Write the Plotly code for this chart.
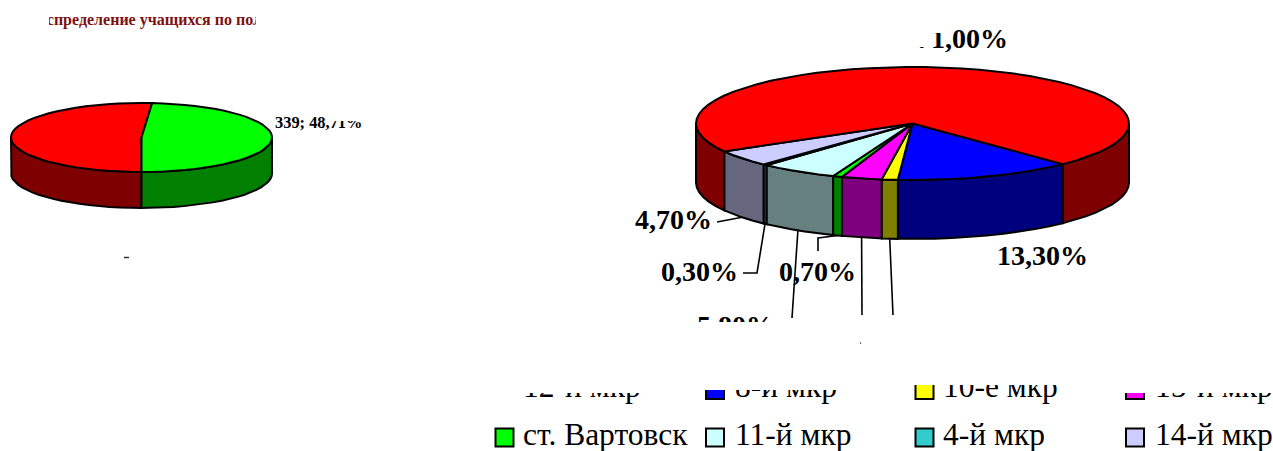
import math
import plotly.graph_objects as go

# ---- data ----
left_names = ["мальчики", "девочки"]
left_values = [357, 339]
left_colors = ["#FF0000", "#00FF00"]

right_names = ["8-й мкр", "10-е мкр", "15-й мкр", "ст. Вартовск", "11-й мкр", "4-й мкр", "14-й мкр", "12-й мкр"]
right_values = [13.3, 1.2, 3.0, 0.7, 5.8, 0.3, 4.7, 71.0]
right_colors = ["#0000FF", "#FFFF00", "#FF00FF", "#00FF00", "#CCFFFF", "#33CCCC", "#CCCCFF", "#FF0000"]

legend_names = ["12-й мкр", "8-й мкр", "10-е мкр", "15-й мкр",
                "ст. Вартовск", "11-й мкр", "4-й мкр", "14-й мкр"]
legend_colors = ["#FF0000", "#0000FF", "#FFFF00", "#FF00FF",
                 "#00FF00", "#CCFFFF", "#33CCCC", "#CCCCFF"]

title_text = "Распределение учащихся по полу"
left_label = "339; 48,71%"

W, H = 1273, 451
fig = go.Figure()


def half(c):
    r, g, b = int(c[1:3], 16), int(c[3:5], 16), int(c[5:7], 16)
    return f"rgb({r//2},{g//2},{b//2})"


def arc(cx, cy, rx, ry, a0, a1):
    n = max(2, int(abs(a1 - a0) / 5) + 2)
    ts = [math.radians(a0 + (a1 - a0) * i / (n - 1)) for i in range(n)]
    return [cx + rx * math.cos(t) for t in ts], [cy + ry * math.sin(t) for t in ts]


def poly(xs, ys, fill, width=2):
    fig.add_trace(go.Scatter(x=xs, y=ys, mode="lines", fill="toself", fillcolor=fill,
                             line=dict(color="black", width=width), hoverinfo="skip", showlegend=False))


def pie3d(values, colors, cx, cy, rx, ry, depth, start):
    total = sum(values)
    spans, a = [], start
    for v in values:
        b = a + v / total * 360
        spans.append((a, b))
        a = b
    # rim faces
    for (a0, b0), c in zip(spans, colors):
        for k in (-360, 0, 360):
            lo, hi = max(a0 + k, 0), min(b0 + k, 180)
            if hi > lo:
                xs, ys = arc(cx, cy, rx, ry, lo, hi)
                poly(xs + xs[::-1] + xs[:1], ys + [y + depth for y in ys[::-1]] + ys[:1], half(c))
    # top faces
    for (a0, b0), c in zip(spans, colors):
        xs, ys = arc(cx, cy, rx, ry, a0, b0)
        poly([cx] + xs + [cx], [cy] + ys + [cy], c)
    return spans


pie3d(left_values, left_colors, 141.5, 137.5, 130.5, 34.5, 36, 90)
R = dict(cx=912.5, cy=123.5, rx=216.5, ry=56.5, depth=59)
spans = pie3d(right_values, right_colors, R["cx"], R["cy"], R["rx"], R["ry"], R["depth"], 46)


def rim_mid(i):
    t = math.radians(sum(spans[i]) / 2)
    return R["cx"] + R["rx"] * math.cos(t), R["cy"] + R["ry"] * math.sin(t) + R["depth"]


# leader lines: slice index -> elbow / end points
leaders = {
    6: [(717, 222)],
    5: [(757, 273), (743, 273)],
    4: [(792, 318)],
    3: [(818, 238), (818, 251)],
    2: [(862, 315)],
    1: [(893, 315)],
}
for i, pts in leaders.items():
    s = rim_mid(i)
    fig.add_trace(go.Scatter(x=[s[0]] + [p[0] for p in pts], y=[s[1]] + [p[1] for p in pts], mode="lines",
                             line=dict(color="black", width=1.6), hoverinfo="skip", showlegend=False))


def text(x, y, s, size, color="black", bold=False, pos="middle right"):
    t = f"<b>{s}</b>" if bold else s
    fig.add_trace(go.Scatter(x=[x], y=[y], mode="text", text=[t], textposition=pos,
                             textfont=dict(family="Liberation Serif", size=size, color=color),
                             hoverinfo="skip", showlegend=False))


# percentage labels
def pct(v):
    return f"{v:.2f}".replace(".", ",") + "%"


text(917, 41, pct(right_values[7]), 28, bold=True)
text(997, 258, pct(right_values[0]), 28, bold=True)
text(635, 222, pct(right_values[6]), 28, bold=True)
text(661, 274, pct(right_values[5]), 28, bold=True)
text(779, 274, pct(right_values[3]), 28, bold=True)
text(697, 328, pct(right_values[4]), 28, bold=True)
text(275, 124, left_label, 16.4, bold=True)
text(29, 21, title_text, 16, color="#7F1010", bold=True)

# legend
swatch_x = [504.5, 715, 924.5, 1135]
text_x = [523, 735, 943, 1155]
row_y = [390, 437.5]
text_y = [389.5, 437.5]
for i, (n, c) in enumerate(zip(legend_names, legend_colors)):
    col, row = i % 4, i // 4
    fig.add_trace(go.Scatter(x=[swatch_x[col]], y=[row_y[row]], mode="markers",
                             marker=dict(symbol="square", size=18, color=c, line=dict(color="black", width=2)),
                             hoverinfo="skip", showlegend=False))
    text(text_x[col], text_y[row], n, 31.5)

# white patches that clip the picture's text
masks = [
    (0, 0, 49, 32), (256, 0, 620, 32),
    (900, 15, 935, 47), (935, 15, 950, 33), (950, 15, 1020, 29),
    (327, 100, 372, 121),
    (680, 322, 790, 350),
    (480, 370, 690, 393), (690, 370, 905, 390), (905, 370, 1110, 385), (1110, 370, W, 393),
    (480, 393, 520, 401),
]
mx, my = [], []
for x0, y0, x1, y1 in masks:
    mx += [x0, x1, x1, x0, x0, None]
    my += [y0, y0, y1, y1, y0, None]
fig.add_trace(go.Scatter(x=mx, y=my, mode="lines", fill="toself", fillcolor="white",
                         line=dict(width=0), hoverinfo="skip", showlegend=False))

# small leftover specks
fig.add_trace(go.Scatter(x=[124, 129, None, 860, 861], y=[257.5, 257.5, None, 343, 343], mode="lines",
                         line=dict(color="#333333", width=1.5), hoverinfo="skip", showlegend=False))

fig.update_layout(width=W, height=H, margin=dict(l=0, r=0, t=0, b=0),
                  paper_bgcolor="white", plot_bgcolor="white", showlegend=False,
                  xaxis=dict(range=[0, W], visible=False, fixedrange=True),
                  yaxis=dict(range=[H, 0], visible=False, fixedrange=True))
fig.write_html("out.html", config={"displayModeBar": False},
               post_script="document.body.style.margin='0';document.documentElement.style.overflow='hidden';")
